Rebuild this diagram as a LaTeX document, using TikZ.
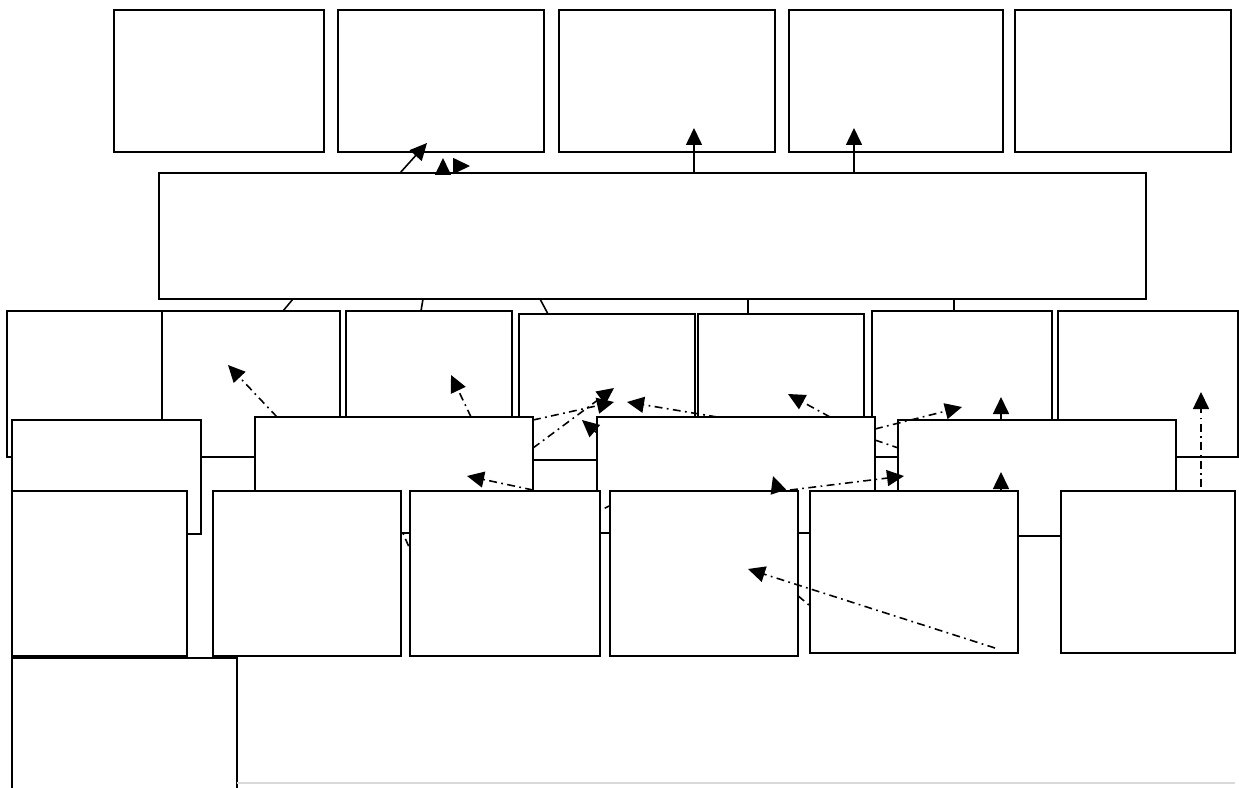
\documentclass[tikz,border=0pt]{standalone}
\usetikzlibrary{arrows.meta,positioning,fit,calc}

\begin{document}
\begin{tikzpicture}[
  x=0.02cm, y=-0.02cm,
  box/.style={draw, fill=white, line width=1pt, inner sep=0pt, outer sep=0pt},
  link/.style={line width=0.9pt},
  arrow/.style={-{Triangle[length=3.4mm,width=3.2mm]}, line width=0.9pt},
  dasharrow/.style={arrow, dash pattern=on 4.5pt off 2.5pt on 1pt off 2.5pt},
  dashline/.style={line width=0.9pt, dash pattern=on 4.5pt off 2.5pt on 1pt off 2.5pt}
]
\useasboundingbox (0,0) rectangle (1239,787);
\clip (0,0) rectangle (1239,787);

% Upper row and the wide central block
\node[box, fit={(114,10) (324,152)}] (top1) {};
\node[box, fit={(338,10) (544,152)}] (top2) {};
\node[box, fit={(559,10) (775,152)}] (top3) {};
\node[box, fit={(789,10) (1003,152)}] (top4) {};
\node[box, fit={(1015,10) (1231,152)}] (top5) {};
\node[box, fit={(159,173) (1146,299)}] (hub) {};

\coordinate (tipA) at (427,143);
\coordinate (tipB) at (443,158);
\coordinate (tipC) at (470,166);
\coordinate (tipD) at (694,128);
\coordinate (tipE) at (854,128);
\draw[arrow] ($(hub.north west)+(241,0)$) -- (tipA);
\draw[arrow] ($(hub.north west)+(284,0)$) -- (tipB);
\draw[arrow] ($(hub.north west)+(297,-7)$) -- (tipC);
\draw[arrow] ($(hub.north west)+(535,0)$) -- (tipD);
\draw[arrow] ($(hub.north west)+(695,0)$) -- (tipE);

% Middle row
\node[box, fit={(7,311) (162,457)}] (mid1) {};
\node[box, fit={(162,311) (340,457)}] (mid2) {};
\node[box, fit={(346,311) (512,457)}] (mid3) {};
\node[box, fit={(519,314) (695,460)}] (mid4) {};
\node[box, fit={(698,314) (864,457)}] (mid5) {};
\node[box, fit={(872,311) (1052,457)}] (mid6) {};
\node[box, fit={(1058,311) (1238,457)}] (mid7) {};

\draw[link] ($(hub.south west)+(134,0)$) -- ($(mid2.north west)+(121,0)$);
\draw[link] ($(hub.south west)+(264,0)$) -- ($(mid3.north west)+(75,0)$);
\draw[link] ($(hub.south west)+(381,0)$) -- ($(mid4.north west)+(29,0)$);
\draw[link] ($(hub.south west)+(589,0)$) -- ($(mid5.north west)+(50,0)$);
\draw[link] ($(hub.south west)+(795,0)$) -- ($(mid6.north west)+(82,0)$);

% Overlapping second layer
\node[box, fit={(12,420) (201,534)}] (left1) {};
\node[box, fit={(255,417) (533,533)}] (wide1) {};
\node[box, fit={(597,417) (875,533)}] (wide2) {};
\coordinate (hid1) at (945,464);
\draw[dasharrow] ($(wide2.north east)+(0,23)$) -- (hid1);
\node[box, fit={(898,420) (1176,536)}] (wide3) {};

\coordinate (tip1) at (228,365);
\coordinate (tip2) at (451,375);
\coordinate (tip3) at (614,402);
\coordinate (tip4) at (614,388);
\coordinate (tip5) at (582,420);
\coordinate (tip6) at (627,402);
\coordinate (tip7) at (788,394);
\coordinate (tip8) at (962,407);
\coordinate (tip10) at (1001,397);
\coordinate (tip11) at (904,476);
\coordinate (tip12) at (773,476);
\coordinate (tip13) at (1001,472);
\coordinate (tip14) at (1201,392);
\coordinate (tip15) at (467,476);
\draw[dasharrow] ($(wide1.north west)+(22,0)$) -- (tip1);
\draw[dasharrow] ($(wide1.north west)+(216,0)$) -- (tip2);
\draw[dasharrow] ($(wide1.north east)+(0,3)$) -- (tip3);
\draw[dasharrow] ($(wide1.north east)+(0,31)$) -- (tip4);
\draw[dasharrow] ($(wide2.north west)+(0,16)$) -- (tip5);
\draw[dasharrow] ($(wide2.north west)+(120,0)$) -- (tip6);
\draw[dasharrow] ($(wide2.north west)+(233,0)$) -- (tip7);
\draw[dasharrow] ($(wide2.north east)+(0,12)$) -- (tip8);
\draw[dasharrow] ($(wide3.north west)+(103,0)$) -- (tip10);
\draw[dasharrow] ($(wide1.north east)+(0,73)$) -- (tip15);

% Lines running behind the lower row
\coordinate (hid2) at (398,522);
\coordinate (hid3) at (420,572);
\coordinate (hid4) at (588,516);
\coordinate (hid5) at (622,500);
\coordinate (hid6) at (784,584);
\coordinate (hid7) at (822,616);
\draw[dashline] (hid2) -- (hid3);
\draw[dashline] (hid4) -- (hid5);
\draw[dashline] (hid6) -- (hid7);

% Lower row
\node[box, fit={(12,491) (187,656)}] (low1) {};
\node[box, fit={(213,491) (401,656)}] (low2) {};
\node[box, fit={(410,491) (600,656)}] (low3) {};
\node[box, fit={(610,491) (798,656)}] (low4) {};
\node[box, fit={(810,491) (1018,653)}] (low5) {};
\node[box, fit={(1061,491) (1235,653)}] (low6) {};
\node[box, fit={(12,658) (237,800)}] (foot) {};

\draw[dasharrow] ($(low4.north west)+(180,-1)$) -- (tip11);
\draw[dasharrow] ($(low4.north west)+(168,0)$) -- (tip12);
\draw[dasharrow] ($(low5.north west)+(191,0)$) -- (tip13);
\draw[dasharrow] ($(low6.north west)+(140,-4)$) -- (tip14);
\coordinate (tip16) at (748,569);
\draw[dasharrow] ($(low5.south west)+(185,-5)$) -- (tip16);

\draw[gray!30, line width=1pt] (foot.east |- 0,783) -- (1235,783);
\end{tikzpicture}
\end{document}
